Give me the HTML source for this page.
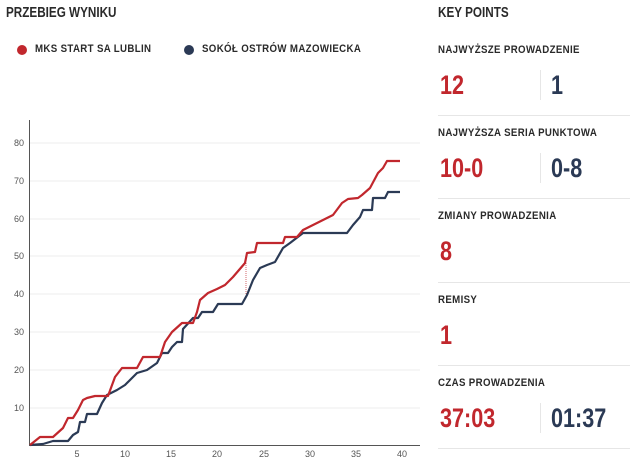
<!DOCTYPE html>
<html><head><meta charset="utf-8"><style>
body{margin:0;width:640px;height:463px;background:#fff;font-family:"Liberation Sans",sans-serif;position:relative;overflow:hidden;color:#333}
.t{position:absolute;font-weight:bold;white-space:nowrap}
.h{font-size:15px;color:#2a2a2a;transform:scaleX(.78);transform-origin:left}
.l{font-size:11px;color:#2a2a2a;letter-spacing:.4px;transform:scaleX(.88);transform-origin:left}
.v{font-size:27px;transform:scaleX(.8);transform-origin:left}
.r{color:#c1272d}.b{color:#2b3a55}
.sep{position:absolute;left:438px;width:192px;height:1px;background:#e6e6e6}
.vd{position:absolute;left:540px;width:1px;height:30px;background:#e6e6e6}
</style></head><body>
<div class="t h" style="left:6px;top:4px">PRZEBIEG WYNIKU</div>
<div style="position:absolute;left:17px;top:45px;width:10px;height:10px;border-radius:50%;background:#c1272d"></div>
<div class="t l" style="left:35px;top:43px">MKS START SA LUBLIN</div>
<div style="position:absolute;left:184px;top:45px;width:10px;height:10px;border-radius:50%;background:#2b3a55"></div>
<div class="t l" style="left:202px;top:43px">SOKÓŁ OSTRÓW MAZOWIECKA</div>

<svg style="position:absolute;left:0;top:0" width="420" height="463">
<g stroke="#ececec" stroke-width="1">
<line x1="30" x2="420" y1="143" y2="143"/><line x1="30" x2="420" y1="181" y2="181"/><line x1="30" x2="420" y1="219" y2="219"/><line x1="30" x2="420" y1="256" y2="256"/><line x1="30" x2="420" y1="294" y2="294"/><line x1="30" x2="420" y1="332" y2="332"/><line x1="30" x2="420" y1="370" y2="370"/><line x1="30" x2="420" y1="408" y2="408"/>
</g>
<line x1="29.5" x2="29.5" y1="120" y2="445" stroke="#555"/>
<line x1="29" x2="420" y1="445.5" y2="445.5" stroke="#555"/>
<g font-family="Liberation Sans,sans-serif" font-size="9" fill="#555" text-anchor="end">
<text x="24" y="146">80</text><text x="24" y="184">70</text><text x="24" y="222">60</text><text x="24" y="259">50</text><text x="24" y="297">40</text><text x="24" y="335">30</text><text x="24" y="373">20</text><text x="24" y="411">10</text>
</g>
<g font-family="Liberation Sans,sans-serif" font-size="9" fill="#555" text-anchor="middle">
<text x="77" y="457">5</text><text x="125" y="457">10</text><text x="171" y="457">15</text><text x="217" y="457">20</text><text x="264" y="457">25</text><text x="310" y="457">30</text><text x="356" y="457">35</text><text x="402" y="457">40</text>
</g>
<line x1="246" x2="246" y1="263" y2="295" stroke="#c1272d" stroke-width="0.7" stroke-dasharray="1,1"/>
<polyline fill="none" stroke="#2b3a55" stroke-width="2.2" stroke-linejoin="round" points="30,445 43,444 53,441 68,441 73,435 78,432 80,422 85,422 87,414 97,414 102,403 107,395 117,390 125,385 137,373 147,370 157,363 162,353 168,353 172,347 177,342 182,342 183,329 193,318 198,318 202,312 213,312 218,304 242,304 247,295 253,280 260,268 267,265 275,262 283,248 290,243 303,233 347,233 353,225 360,217 363,210 372,210 373,198 385,198 388,192 400,192"/>
<polyline fill="none" stroke="#c1272d" stroke-width="2.2" stroke-linejoin="round" points="30,445 40,437 53,437 63,428 68,418 73,418 78,410 83,400 87,398 95,396 108,396 115,377 122,368 137,368 143,357 160,357 165,342 172,332 182,323 193,323 197,312 200,300 208,293 217,289 225,285 233,277 245,263 247,253 255,252 257,243 283,243 285,237 297,237 303,230 323,220 333,215 342,203 348,199 358,198 362,195 370,188 378,173 383,168 387,161 400,161"/>
</svg>

<div class="t h" style="left:438px;top:4px">KEY POINTS</div>
<div class="t l" style="left:438px;top:44px">NAJWYŻSZE PROWADZENIE</div>
<div class="t v r" style="left:440px;top:70px">12</div>
<div class="vd" style="top:70px"></div>
<div class="t v b" style="left:551px;top:70px">1</div>
<div class="sep" style="top:115px"></div>
<div class="t l" style="left:438px;top:127px">NAJWYŻSZA SERIA PUNKTOWA</div>
<div class="t v r" style="left:440px;top:153px">10-0</div>
<div class="vd" style="top:153px"></div>
<div class="t v b" style="left:551px;top:153px">0-8</div>
<div class="sep" style="top:198px"></div>
<div class="t l" style="left:438px;top:210px">ZMIANY PROWADZENIA</div>
<div class="t v r" style="left:440px;top:236px">8</div>
<div class="sep" style="top:282px"></div>
<div class="t l" style="left:438px;top:294px">REMISY</div>
<div class="t v r" style="left:440px;top:320px">1</div>
<div class="sep" style="top:365px"></div>
<div class="t l" style="left:438px;top:377px">CZAS PROWADZENIA</div>
<div class="t v r" style="left:440px;top:403px">37:03</div>
<div class="vd" style="top:403px"></div>
<div class="t v b" style="left:551px;top:403px">01:37</div>
<div class="sep" style="top:448px"></div>
</body></html>
